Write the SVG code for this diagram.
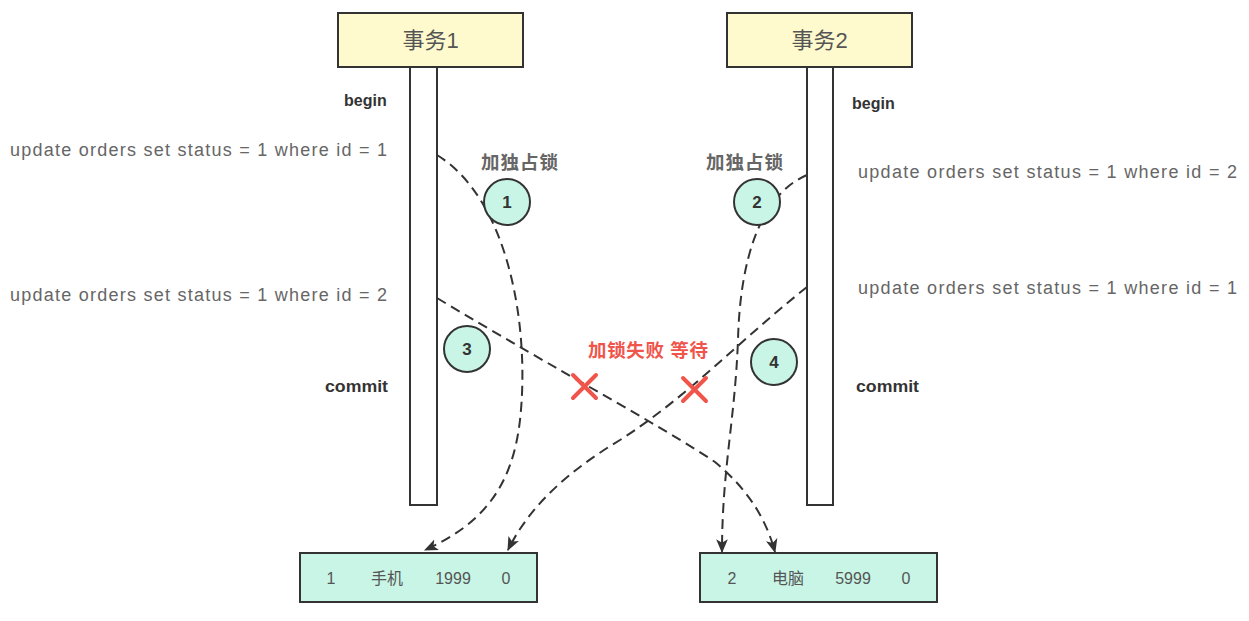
<svg xmlns="http://www.w3.org/2000/svg" width="1249" height="621" viewBox="0 0 1249 621">
<defs>
<style>
.txn{fill:#FFFACD;stroke:#333;stroke-width:2}
.life{fill:#fff;stroke:#333;stroke-width:2}
.rec{fill:#C8F5E6;stroke:#333;stroke-width:2}
.num{fill:#C8F5E6;stroke:#333;stroke-width:2}
.t{font-family:"Liberation Sans","Noto Sans CJK SC",sans-serif;fill:#555}
.title{font-size:22px;text-anchor:middle}
.kw{font-size:16px;font-weight:bold;fill:#333}
.sql{font-size:18px;fill:#666}
.lock{font-size:18.5px;font-weight:bold;fill:#666}
.fail{font-size:18.5px;font-weight:bold;fill:#F0554C}
.cn{font-size:17px;font-weight:bold;fill:#333;text-anchor:middle}
.cell{font-size:16px;fill:#555;text-anchor:middle}
.conn{fill:none;stroke:#333;stroke-width:2;stroke-dasharray:10 6}
.x{stroke:#F0554C;stroke-width:4;stroke-linecap:round}
</style>
<marker id="arrow" viewBox="0 0 12 12" refX="11" refY="6" markerWidth="14" markerHeight="14" orient="auto" markerUnits="userSpaceOnUse">
<path d="M0,1 L12,6 L0,11 L3,6 Z" fill="#333"/>
</marker>
</defs>
<rect width="1249" height="621" fill="#fff"/>

<g id="txn1">
<rect class="txn" x="338" y="13" width="185" height="54"/>
<text class="t title" x="430.5" y="48">事务1</text>
</g>
<g id="txn2">
<rect class="txn" x="727" y="13" width="185" height="54"/>
<text class="t title" x="819.5" y="48">事务2</text>
</g>
<g id="life1">
<rect class="life" x="410" y="67" width="27" height="438"/>
</g>
<g id="life2">
<rect class="life" x="807" y="67" width="26" height="438"/>
</g>

<g id="labels">
<text class="t kw" x="344" y="106">begin</text>
<text class="t kw" x="325" y="392" textLength="63" lengthAdjust="spacingAndGlyphs">commit</text>
<text class="t kw" x="852" y="109">begin</text>
<text class="t kw" x="856" y="392" textLength="63" lengthAdjust="spacingAndGlyphs">commit</text>
<text class="t sql" x="10" y="156" textLength="377">update orders set status = 1 where id = 1</text>
<text class="t sql" x="10" y="301" textLength="377">update orders set status = 1 where id = 2</text>
<text class="t sql" x="858" y="178" textLength="379">update orders set status = 1 where id = 2</text>
<text class="t sql" x="858" y="294" textLength="379">update orders set status = 1 where id = 1</text>
<text class="t lock" x="481" y="169" textLength="77">加独占锁</text>
<text class="t lock" x="706" y="169" textLength="77">加独占锁</text>
<text class="t fail" x="588" y="357" textLength="120">加锁失败 等待</text>
</g>

<g id="connectors">
<path class="conn" d="M437,155 C510,200 530,330 520,420 C512,490 480,525 425,550" marker-end="url(#arrow)"/>
<path class="conn" d="M807,175 C760,195 740,260 738,340 C735,420 722,470 722,552" marker-end="url(#arrow)"/>
<path class="conn" d="M437,298 C560,372 660,425 715,462 C745,487 765,515 775,552" marker-end="url(#arrow)"/>
<path class="conn" d="M807,287 C740,340 690,395 620,440 C570,470 530,505 508,550" marker-end="url(#arrow)"/>
</g>

<g id="c1"><circle class="num" cx="507" cy="202" r="23"/><text class="t cn" x="507" y="208">1</text></g>
<g id="c2"><circle class="num" cx="757" cy="202" r="23"/><text class="t cn" x="757" y="208">2</text></g>
<g id="c3"><circle class="num" cx="467" cy="349" r="23"/><text class="t cn" x="467" y="355">3</text></g>
<g id="c4"><circle class="num" cx="774" cy="362" r="23"/><text class="t cn" x="774" y="368">4</text></g>

<g id="x1"><line class="x" x1="573" y1="375" x2="596" y2="398"/><line class="x" x1="596" y1="375" x2="573" y2="398"/></g>
<g id="x2"><line class="x" x1="683" y1="378" x2="706" y2="401"/><line class="x" x1="706" y1="378" x2="683" y2="401"/></g>

<g id="row1">
<rect class="rec" x="300" y="553" width="237" height="49"/>
<text class="t cell" x="331" y="584">1</text>
<text class="t cell" x="387" y="584">手机</text>
<text class="t cell" x="453" y="584">1999</text>
<text class="t cell" x="506" y="584">0</text>
</g>
<g id="row2">
<rect class="rec" x="700" y="553" width="237" height="49"/>
<text class="t cell" x="732" y="584">2</text>
<text class="t cell" x="788" y="584">电脑</text>
<text class="t cell" x="853" y="584">5999</text>
<text class="t cell" x="906" y="584">0</text>
</g>
</svg>
